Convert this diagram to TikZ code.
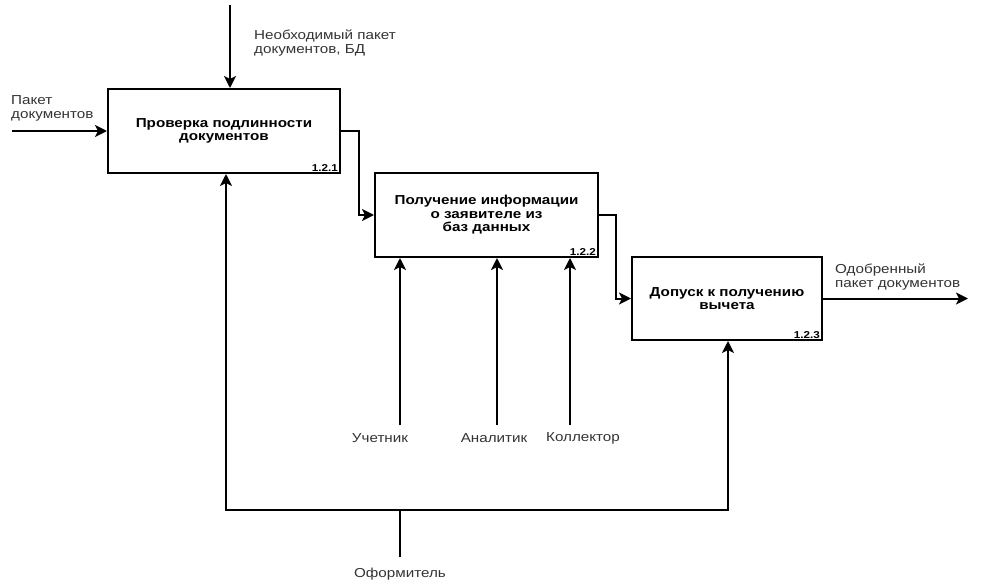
\documentclass[tikz,border=0pt]{standalone}
\usepackage{fontspec}
\setmainfont{Liberation Sans}[FakeStretch=1.17]
\usetikzlibrary{arrows.meta}
\definecolor{txt}{HTML}{333333}
\tikzset{
  ln/.style={line width=2pt, black},
  arr/.style={ln, -{Stealth[length=12pt,width=12pt,inset=3pt]}},
  fnbox/.style={draw, line width=2pt, rectangle, inner sep=0pt, align=center,
    font=\fontsize{13}{13.5}\selectfont\bfseries, text=black},
  lbl/.style={inner sep=0pt, align=left, text=txt, font=\fontsize{13}{14}\selectfont},
  num/.style={inner sep=0pt, font=\fontsize{10}{10}\selectfont\bfseries, anchor=south east}
}
\begin{document}
\begin{tikzpicture}[x=1pt,y=-1pt]
\useasboundingbox (0,0) rectangle (997,584);
% boxes
\node[fnbox, minimum width=232pt, minimum height=84pt] (b1) at (224,131) {Проверка подлинности\\документов};
\node[fnbox, minimum width=223pt, minimum height=84pt] (b2) at (486.5,215) {Получение информации\\о заявителе из\\баз данных};
\node[fnbox, minimum width=190pt, minimum height=83pt] (b3) at (727,298.5) {Допуск к получению\\вычета};
\node[num] (n1) at ([shift={(-3pt,2pt)}]b1.south east) {1.2.1};
\node[num] (n2) at ([shift={(-3pt,2pt)}]b2.south east) {1.2.2};
\node[num] (n3) at ([shift={(-3pt,2pt)}]b3.south east) {1.2.3};
% inputs and top control
\coordinate (ctop) at (230,5);
\coordinate (cleft) at (12,131);
\coordinate (cout) at (968,298.5);
\draw[arr] (ctop) -- (ctop |- b1.north);
\draw[arr] (cleft) -- (b1.west);
\draw[arr] (b1.east) -- ++(18,0) |- (b2.west);
\draw[arr] (b2.east) -- ++(17,0) |- (b3.west);
\draw[arr] (b3.east) -- (cout);
\node[lbl, anchor=north west] (ltop) at (254,30) {Необходимый пакет\\документов, БД};
\node[lbl, anchor=north west] (lleft) at (11,95) {Пакет\\документов};
\node[lbl, anchor=north west] (lout) at (835,264) {Одобренный\\пакет документов};
% mechanisms of box 2
\coordinate (u1) at (400,425);
\coordinate (u2) at (497,425);
\coordinate (u3) at (570,425);
\draw[arr] (u1) -- (u1 |- b2.south);
\draw[arr] (u2) -- (u2 |- b2.south);
\draw[arr] (u3) -- (u3 |- b2.south);
\node[lbl] (l1) at (380,438) {Учетник};
\node[lbl] (l2) at (494,438) {Аналитик};
\node[lbl] (l3) at (583,438) {Коллектор};
% bottom mechanism
\coordinate (of) at (400,557);
\coordinate (j) at (400,510);
\coordinate (jl) at (226,510);
\coordinate (jr) at (728,510);
\draw[ln] (of) -- (j);
\draw[arr] (j) -- (jl) -- (jl |- b1.south);
\draw[arr] (j) -- (jr) -- (jr |- b3.south);
\node[lbl] (lof) at (400,574) {Оформитель};
\end{tikzpicture}
\end{document}
